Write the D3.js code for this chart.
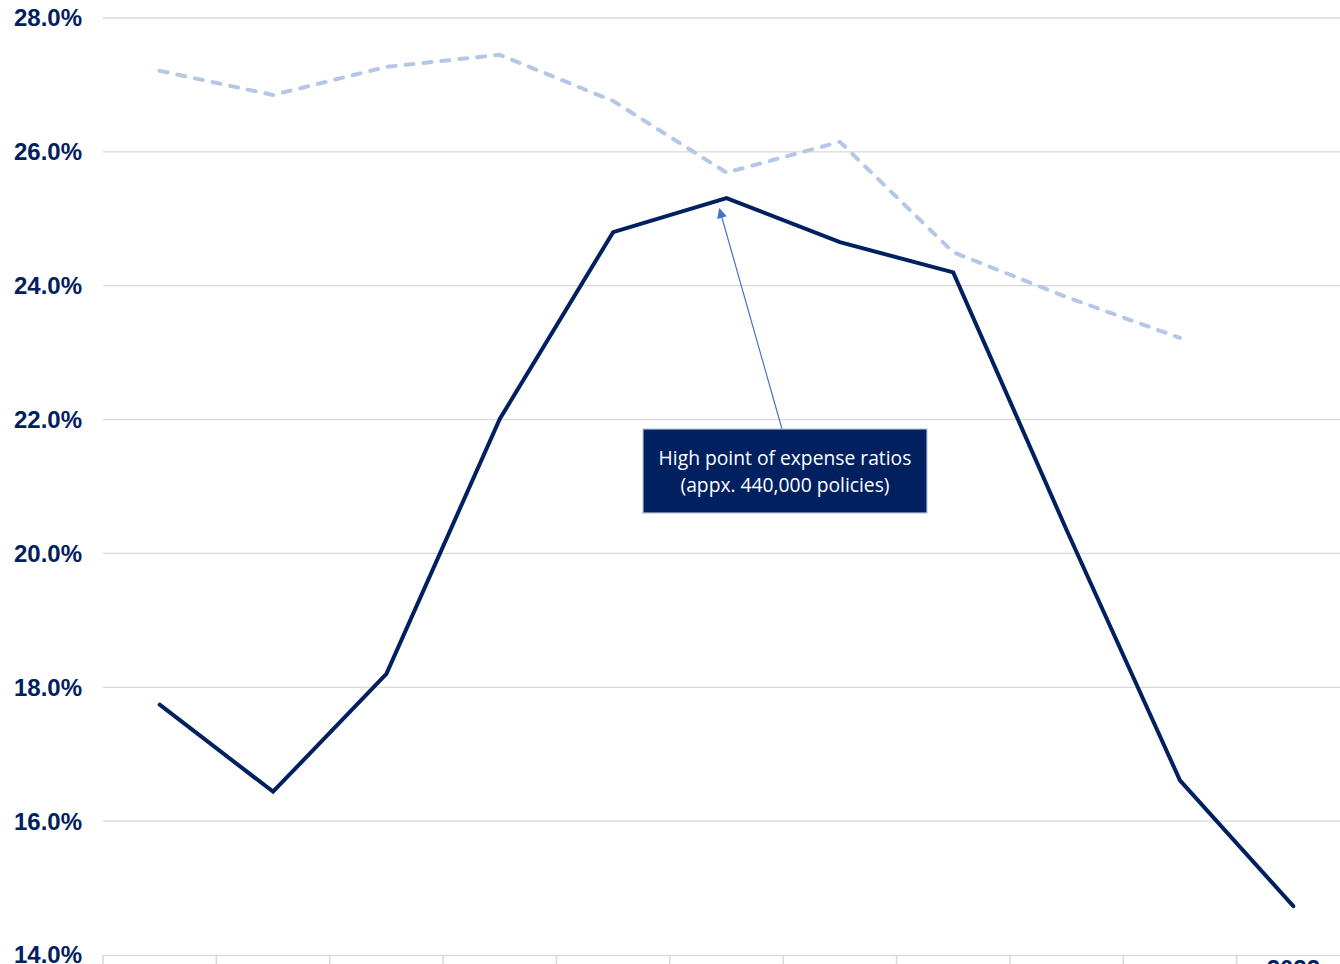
<!DOCTYPE html>
<html>
<head>
<meta charset="utf-8">
<script src="https://cdn.jsdelivr.net/npm/d3@7"></script>
<style>
  html, body { margin: 0; padding: 0; background: #fff; overflow: hidden; }
  svg { display: block; }
</style>
</head>
<body>
<svg id="chart" width="1340" height="964"></svg>
<script>
// ---- Data ----
const years = ["2012","2013","2014","2015","2016","2017","2018","2019","2020","2021","2022"];
const expenseRatio = [17.74, 16.44, 18.20, 22.01, 24.80, 25.31, 24.65, 24.20, 20.35, 16.61, 14.73];
const comparisonRatio = [27.21, 26.85, 27.27, 27.45, 26.76, 25.69, 26.15, 24.50, 23.83, 23.22, null];
const yTicks = [14, 16, 18, 20, 22, 24, 26, 28];
const visibleXLabels = ["2022"];
const annotationLines = ["High point of expense ratios", "(appx. 440,000 policies)"];
const annotationIndex = 5;

// ---- Layout ----
const W = 1340, H = 964;
const plotLeft = 103, plotRight = 1350, plotTop = 18, plotBottom = 955;
const navy = "#002060";
const light = "#B4C7E7";
const grid = "#d9d9d9";

const svg = d3.select("#chart");

const x = d3.scaleBand().domain(years).range([plotLeft, plotRight]).padding(0);
const y = d3.scaleLinear().domain([14, 28]).range([plotBottom, plotTop]);
const cx = d => x(d) + x.bandwidth() / 2;

// gridlines
svg.append("g")
  .selectAll("line")
  .data(yTicks.filter(t => t !== 14))
  .join("line")
  .attr("x1", plotLeft).attr("x2", W)
  .attr("y1", d => y(d)).attr("y2", d => y(d))
  .attr("stroke", grid).attr("stroke-width", 1.3);

// y labels
svg.append("g")
  .selectAll("text")
  .data(yTicks)
  .join("text")
  .attr("x", 82)
  .attr("y", d => y(d))
  .attr("dy", "0.35em")
  .attr("text-anchor", "end")
  .attr("font-family", "'Liberation Sans', Arial, sans-serif")
  .attr("font-weight", "bold")
  .attr("font-size", 24)
  .attr("fill", navy)
  .text(d => d.toFixed(1) + "%");

// x axis
const xAxis = d3.axisBottom(x)
  .tickSize(0)
  .tickFormat(d => visibleXLabels.includes(d) ? d : "");
const gx = svg.append("g").attr("transform", `translate(0,${plotBottom})`).call(xAxis);
gx.select(".domain").attr("stroke", grid).attr("stroke-width", 1.5);
gx.selectAll("text")
  .attr("font-family", "'Liberation Sans', Arial, sans-serif")
  .attr("font-weight", "bold")
  .attr("font-size", 24)
  .attr("fill", navy)
  .attr("y", 22)
  .attr("dy", "0");
// category boundary ticks
svg.append("g")
  .selectAll("line")
  .data(years)
  .join("line")
  .attr("x1", d => x(d)).attr("x2", d => x(d))
  .attr("y1", plotBottom).attr("y2", plotBottom + 12)
  .attr("stroke", grid).attr("stroke-width", 1.5);

// lines
const lineGen = d3.line()
  .defined(d => d.v !== null)
  .x(d => cx(d.year))
  .y(d => y(d.v));

svg.append("path")
  .datum(years.map((yr, i) => ({year: yr, v: comparisonRatio[i]})))
  .attr("d", lineGen)
  .attr("fill", "none")
  .attr("stroke", light)
  .attr("stroke-width", 4)
  .attr("stroke-dasharray", "8,10")
  .attr("stroke-linecap", "round")
  .attr("stroke-linejoin", "round");

svg.append("path")
  .datum(years.map((yr, i) => ({year: yr, v: expenseRatio[i]})))
  .attr("d", lineGen)
  .attr("fill", "none")
  .attr("stroke", navy)
  .attr("stroke-width", 4)
  .attr("stroke-linejoin", "miter")
  .attr("stroke-linecap", "round");

// annotation
const defs = svg.append("defs");
defs.append("marker")
  .attr("id", "arrow")
  .attr("viewBox", "0 0 10 10")
  .attr("refX", 9).attr("refY", 5)
  .attr("markerWidth", 12).attr("markerHeight", 10)
  .attr("markerUnits", "userSpaceOnUse")
  .attr("orient", "auto")
  .append("path")
  .attr("d", "M0,0 L10,5 L0,10 Z")
  .attr("fill", "#4472C4");

const boxX = 643, boxY = 429, boxW = 284, boxH = 84;
const tipX = cx(years[annotationIndex]) - 7;
const tipY = y(expenseRatio[annotationIndex]) + 11;

svg.append("line")
  .attr("x1", 782).attr("y1", boxY)
  .attr("x2", tipX).attr("y2", tipY)
  .attr("stroke", "#4472C4")
  .attr("stroke-width", 1.2)
  .attr("marker-end", "url(#arrow)");

svg.append("rect")
  .attr("x", boxX).attr("y", boxY)
  .attr("width", boxW).attr("height", boxH)
  .attr("fill", navy)
  .attr("stroke", "#b9c3d6")
  .attr("stroke-width", 1.2);

const at = svg.append("g");
annotationLines.forEach((t, i) => {
  const el = at.append("text")
    .attr("x", boxX + boxW / 2)
    .attr("y", 458 + i * 27)
    .attr("dy", "0.35em")
    .attr("text-anchor", "middle")
    .attr("font-family", "'Open Sans', 'Noto Sans', sans-serif")
    .attr("font-size", 19)
    .attr("fill", "#ffffff")
    .text(t);
  if (i === 0) {
    const len = el.node().getComputedTextLength();
    const target = 253;
    const fs = 19 * target / len;
    at.attr("data-fs", fs);
  }
});
const fs = +at.attr("data-fs");
at.selectAll("text").attr("font-size", fs);
</script>
</body>
</html>
